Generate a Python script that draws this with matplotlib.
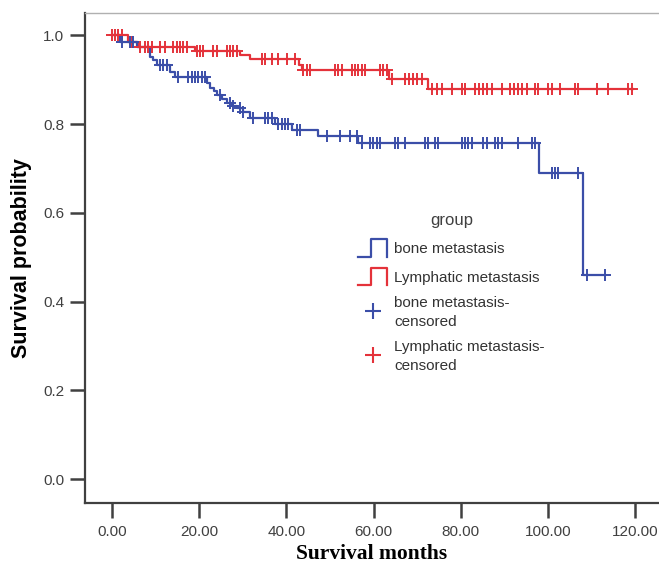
"""
Kaplan-Meier curves, bone vs lymphatic metastasis
"""
import numpy as np
import matplotlib
matplotlib.use('Agg')
import matplotlib.pyplot as plt
from matplotlib.lines import Line2D
from matplotlib.legend_handler import HandlerBase

# step points (time, survival)
bone_t = [0, 1.8, 5.7, 8.7, 9.5, 10.3, 13.3, 14.4, 21.8, 22.5, 23.3, 24.1, 25.2,
          26.4, 27.5, 28.7, 30.0, 31.7, 37.4, 41.3, 47.2, 56.4, 97.9, 108.0]
bone_s = [1.0, 0.985, 0.974, 0.951, 0.944, 0.932, 0.918, 0.906, 0.893, 0.882, 0.874,
          0.865, 0.857, 0.847, 0.840, 0.835, 0.828, 0.813, 0.801, 0.786, 0.774, 0.757,
          0.690, 0.459]
bone_end = 113.1
bone_cens = [2.2, 4.1, 4.8, 11.0, 11.7, 12.6, 15.1, 17.4, 18.3, 19.0, 19.7, 20.6, 21.3,
             24.8, 27.1, 27.8, 29.4, 30.0, 32.4, 35.1, 35.8, 36.7, 38.1, 39.0, 39.7, 40.4,
             42.4, 43.1, 49.4, 52.3, 54.6, 56.2, 57.3, 59.2, 59.9, 60.8, 61.5, 64.9, 65.6,
             67.2, 71.8, 72.5, 74.1, 74.8, 80.3, 81.0, 81.7, 82.6, 85.1, 86.0, 87.8, 88.5,
             89.4, 93.1, 96.3, 97.0, 100.9, 101.6, 102.3, 106.9, 108.9, 113.1]

lymph_t = [0, 3.7, 6.0, 19.0, 29.4, 31.6, 43.0, 43.6, 63.6, 72.4]
lymph_s = [1.0, 0.985, 0.973, 0.965, 0.956, 0.946, 0.932, 0.921, 0.901, 0.879]
lymph_end = 119.5
lymph_cens = [0.0, 0.7, 1.4, 2.2, 4.5, 6.5, 7.6, 8.3, 9.2, 11.0, 12.2, 14.0, 14.9, 15.6,
              16.3, 17.2, 19.5, 20.2, 20.9, 23.2, 24.1, 26.4, 27.1, 27.8, 28.7, 34.3, 35.1,
              36.6, 38.1, 40.1, 42.0, 43.8, 44.7, 45.4, 51.1, 51.8, 52.7, 55.0, 55.7, 56.4,
              57.3, 58.0, 61.5, 62.2, 63.1, 64.2, 67.2, 68.1, 69.0, 69.9, 71.1, 73.4, 74.5,
              75.7, 78.0, 80.3, 81.0, 83.3, 84.2, 85.1, 86.0, 87.2, 89.4, 91.3, 92.2, 93.1,
              94.0, 95.2, 97.0, 97.7, 100.0, 100.9, 102.8, 106.2, 106.9, 111.2, 113.8,
              118.3, 119.3]

xticks = [0, 20, 40, 60, 80, 100, 120]
yticks = [0.0, 0.2, 0.4, 0.6, 0.8, 1.0]

blue = '#3b4ea8'
red = '#e4323a'
grey = '#404040'


class StepHandler(HandlerBase):
    # the SPSS style "_|~|" legend glyph
    def create_artists(self, legend, orig_handle, xdescent, ydescent, width, height,
                       fontsize, trans):
        x0, y0 = -xdescent, -ydescent
        xs = [x0, x0 + 0.45*width, x0 + 0.45*width, x0 + width, x0 + width]
        ys = [y0, y0, y0 + height, y0 + height, y0]
        ln = Line2D(xs, ys, color=orig_handle.get_color(), lw=1.6, transform=trans)
        return [ln]


def km(ax, t, s, t_end, cens, color):
    tt = list(t) + [t_end]
    ss = list(s) + [s[-1]]
    ax.step(tt, ss, where='post', color=color, lw=1.6, zorder=3)
    idx = np.searchsorted(t, cens, side='right') - 1
    cy = np.array(s)[idx]
    ax.plot(cens, cy, ls='none', marker='+', ms=8, mew=1.4, color=color, zorder=4)


fig = plt.figure(figsize=(6.59, 5.66), dpi=100)
ax = fig.add_axes([0.129, 0.111, 0.871, 0.866])

km(ax, lymph_t, lymph_s, lymph_end, lymph_cens, red)
km(ax, bone_t, bone_s, bone_end, bone_cens, blue)

ax.set_xlim(-6.2, 125.5)
ax.set_ylim(-0.054, 1.05)
ax.set_xticks(xticks)
ax.set_xticklabels(['%.2f' % v for v in xticks], family='Liberation Sans', fontsize=11,
                   color=grey)
ax.set_yticks(yticks)
ax.set_yticklabels(['%.1f' % v for v in yticks], family='Liberation Sans', fontsize=11,
                   color=grey)
ax.tick_params(axis='both', direction='out', length=11, width=1.8, color=grey, pad=4)
ax.tick_params(axis='x', pad=5)

ax.spines['right'].set_visible(False)
ax.spines['top'].set_color('#b0b0b0')
ax.spines['top'].set_linewidth(1.0)
for sp in ['left', 'bottom']:
    ax.spines[sp].set_color(grey)
    ax.spines[sp].set_linewidth(1.6)

ax.set_xlabel('Survival months', family='Liberation Serif', fontweight='bold',
              fontsize=15.5, labelpad=3)
ax.set_ylabel('Survival probability', family='Liberation Sans', fontweight='bold',
              fontsize=15.5, labelpad=8)

h_bone = Line2D([], [], color=blue)
h_lymph = Line2D([], [], color=red)
h_bc = Line2D([], [], ls='none', marker='+', ms=12, mew=1.5, color=blue)
h_lc = Line2D([], [], ls='none', marker='+', ms=12, mew=1.5, color=red)
leg = ax.legend([h_bone, h_lymph, h_bc, h_lc],
                ['bone metastasis', 'Lymphatic metastasis',
                 'bone metastasis-\ncensored', 'Lymphatic metastasis-\ncensored'],
                handler_map={h_bone: StepHandler(), h_lymph: StepHandler()},
                title='group', loc='upper left', bbox_to_anchor=(0.452, 0.62),
                frameon=False, handlelength=1.9, handleheight=1.4, handletextpad=0.45,
                labelspacing=0.72, prop={'family': 'Liberation Sans', 'size': 11})
leg.get_title().set_fontfamily('Liberation Sans')
leg.get_title().set_fontsize(12)
leg.get_title().set_color(grey)
for tx in leg.get_texts():
    tx.set_color('#333333')
    tx.set_linespacing(1.45)

fig.savefig('out.png', dpi=100)
